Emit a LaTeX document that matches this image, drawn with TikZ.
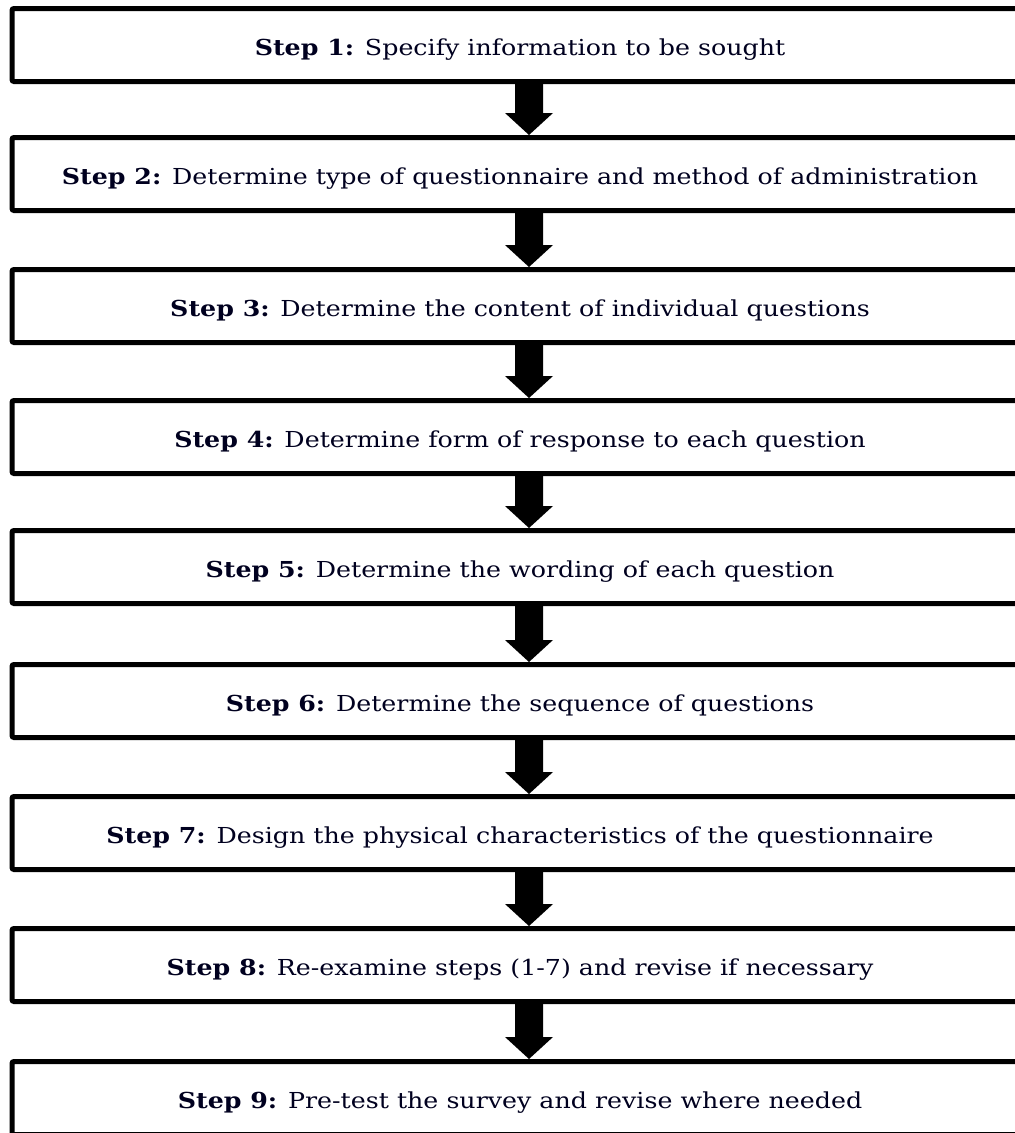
\documentclass[tikz,border=0pt]{standalone}
\usepackage{fontspec}
\usepackage{graphicx}
\setmainfont{DejaVu Serif}
\usetikzlibrary{calc}
% step caption, set slightly wide
\newcommand\steptext[2]{\scalebox{1.15}[1]{\textbf{Step #1:} #2}}
\begin{document}
\begin{tikzpicture}[x=1pt,y=-1pt,
  stepbox/.style={draw=black, line width=5pt, rounded corners=2pt,
    minimum width=1016pt, minimum height=73pt, inner sep=0pt,
    text height=22pt, text depth=2pt,
    font=\fontsize{22}{26}\selectfont, text=black!88!blue},
  blockarrow/.style={fill=black}]
\useasboundingbox (0,0) rectangle (1015,1133);
\clip (0,0) rectangle (1015,1133);
\fill[white] (0,0) rectangle (1015,1133);

\node[stepbox] (s1) at (520,45)   {\steptext{1}{Specify information to be sought}};
\node[stepbox] (s2) at (520,174)  {\steptext{2}{Determine type of questionnaire and method of administration}};
\node[stepbox] (s3) at (520,306)  {\steptext{3}{Determine the content of individual questions}};
\node[stepbox] (s4) at (520,437)  {\steptext{4}{Determine form of response to each question}};
\node[stepbox] (s5) at (520,567)  {\steptext{5}{Determine the wording of each question}};
\node[stepbox] (s6) at (520,701)  {\steptext{6}{Determine the sequence of questions}};
\node[stepbox] (s7) at (520,833)  {\steptext{7}{Design the physical characteristics of the questionnaire}};
\node[stepbox] (s8) at (520,965)  {\steptext{8}{Re-examine steps (1-7) and revise if necessary}};
\node[stepbox] (s9) at (520,1098) {\steptext{9}{Pre-test the survey and revise where needed}};

% thick block arrows between consecutive steps
\foreach \a/\b in {s1/s2,s2/s3,s3/s4,s4/s5,s5/s6,s6/s7,s7/s8,s8/s9}{
  \fill[blockarrow] let \p1=(\a.south), \p2=(\b.north) in
    (\x1-5pt,\y1) -- (\x1+23pt,\y1) -- (\x1+23pt,\y2+22pt) -- (\x1+33pt,\y2+22pt)
    -- (\x1+9pt,\y2) -- (\x1-15pt,\y2+22pt) -- (\x1-5pt,\y2+22pt) -- cycle;
}
\end{tikzpicture}
\end{document}
